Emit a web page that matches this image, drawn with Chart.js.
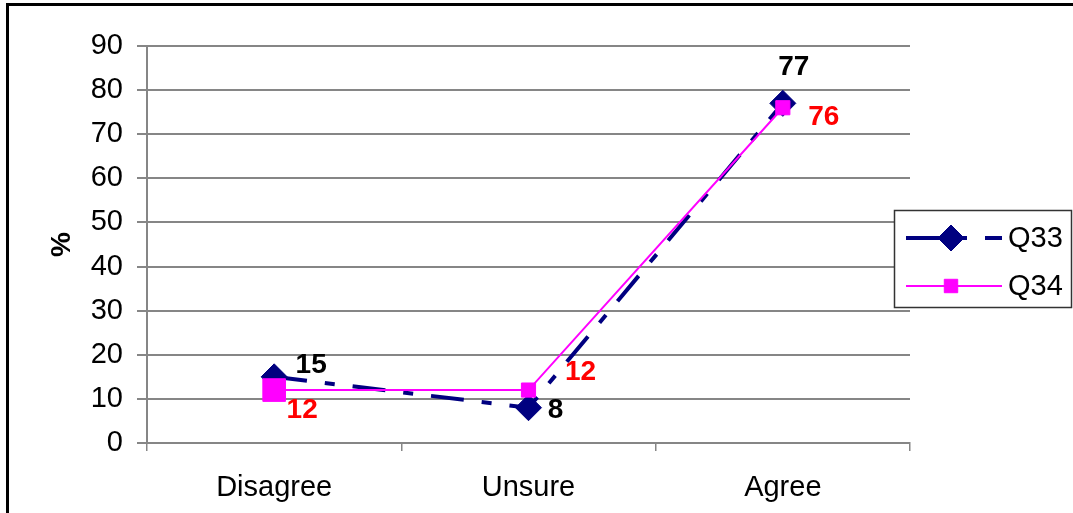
<!DOCTYPE html>
<html>
<head>
<meta charset="utf-8">
<script src="https://cdn.jsdelivr.net/npm/chart.js@4/dist/chart.umd.min.js"></script>
<style>
  body { margin: 0; background: #fff; }
  canvas { display: block; }
</style>
</head>
<body>
<canvas id="chart" width="1073" height="513"></canvas>
<script>
const categories = ["Disagree", "Unsure", "Agree"];
const q33 = [15, 8, 77];
const q34 = [12, 12, 76];
const yTicks = [0, 10, 20, 30, 40, 50, 60, 70, 80, 90];

const navy = "#000080";
const pink = "#ff00ff";
const grey = "#868686";
const dashes = [33, 18, 10, 18];
const fontFam = "'Liberation Sans', Arial, sans-serif";

// where each value label sits, relative to its point
const labelShift = {
  0: [[37, -12], [27, 3], [11, -36]],
  1: [[28, 20], [52, -18], [41, 10]]
};
const labelColour = ["#000000", "#ff0000"];

const extras = {
  id: "extras",
  beforeDraw(chart) {
    const ctx = chart.ctx;
    ctx.save();
    ctx.fillStyle = "#000";
    ctx.fillRect(6, 3, chart.width - 6, 3);
    ctx.fillRect(6, 3, 3, chart.height - 3);
    ctx.restore();
  },
  afterDatasetsDraw(chart) {
    const ctx = chart.ctx;
    ctx.save();
    ctx.font = "bold 28px " + fontFam;
    ctx.textAlign = "center";
    ctx.textBaseline = "middle";
    chart.data.datasets.forEach((ds, i) => {
      const meta = chart.getDatasetMeta(i);
      meta.data.forEach((pt, j) => {
        const s = labelShift[i][j];
        ctx.fillStyle = labelColour[i];
        ctx.fillText(String(ds.data[j]), pt.x + s[0], pt.y + s[1]);
      });
    });

    // legend box
    const bx = 894, by = 210, bw = 177, bh = 97;
    ctx.fillStyle = "#fff";
    ctx.fillRect(bx, by, bw, bh);
    ctx.strokeStyle = "#333";
    ctx.lineWidth = 1.5;
    ctx.strokeRect(bx + 0.5, by + 0.5, bw, bh);

    const rows = [{ y: 238, ds: chart.data.datasets[0] }, { y: 286, ds: chart.data.datasets[1] }];
    rows.forEach((r) => {
      const d = r.ds;
      ctx.strokeStyle = d.borderColor;
      ctx.lineWidth = d.borderWidth;
      ctx.setLineDash(d.borderDash || []);
      ctx.beginPath();
      ctx.moveTo(906, r.y);
      ctx.lineTo(1002, r.y);
      ctx.stroke();
      ctx.setLineDash([]);
      ctx.fillStyle = d.pointBackgroundColor;
      ctx.strokeStyle = d.pointBorderColor;
      ctx.lineWidth = 1;
      Chart.helpers.drawPoint(ctx, {
        pointStyle: d.pointStyle,
        radius: d.legendRadius,
        borderWidth: 1
      }, 951, r.y);
      ctx.fillStyle = "#000";
      ctx.font = "29px " + fontFam;
      ctx.textAlign = "left";
      ctx.fillText(d.label, 1008, r.y + 1);
    });
    ctx.restore();
  }
};

new Chart(document.getElementById("chart"), {
  type: "line",
  data: {
    labels: categories,
    datasets: [
      {
        label: "Q33",
        data: q33,
        order: 2,
        borderColor: navy,
        borderWidth: 4,
        borderDash: dashes,
        pointStyle: "rectRot",
        pointRadius: 13,
        legendRadius: 13,
        pointBackgroundColor: navy,
        pointBorderColor: navy,
        pointBorderWidth: 1,
        tension: 0
      },
      {
        label: "Q34",
        data: q34,
        order: 1,
        borderColor: pink,
        borderWidth: 2,
        pointStyle: "rect",
        pointRadius: [16, 10, 10],
        legendRadius: 9.5,
        pointBackgroundColor: pink,
        pointBorderColor: pink,
        pointBorderWidth: 1,
        tension: 0
      }
    ]
  },
  options: {
    responsive: false,
    animation: false,
    layout: { padding: { left: 0, top: 46, right: 163, bottom: 0 } },
    plugins: { legend: { display: false }, tooltip: { enabled: false } },
    scales: {
      x: {
        offset: true,
        afterFit(s) { s.height = 70; },
        grid: { offset: true, drawOnChartArea: false, tickLength: 8, color: grey, lineWidth: 1.5 },
        border: { color: grey, width: 2 },
        ticks: { color: "#000", padding: 20, font: { size: 29, family: fontFam } }
      },
      y: {
        min: 0,
        max: 90,
        afterFit(s) { s.width = 147; },
        afterBuildTicks(s) { s.ticks = yTicks.map((v) => ({ value: v })); },
        grid: { tickLength: 10, color: grey, lineWidth: 2 },
        border: { color: grey, width: 2 },
        ticks: { color: "#000", padding: 14, font: { size: 29, family: fontFam } },
        title: {
          display: true,
          text: "%",
          color: "#000",
          padding: { top: 45, bottom: 0 },
          font: { size: 28, weight: "bold", family: fontFam }
        }
      }
    }
  },
  plugins: [extras]
});
</script>
</body>
</html>
